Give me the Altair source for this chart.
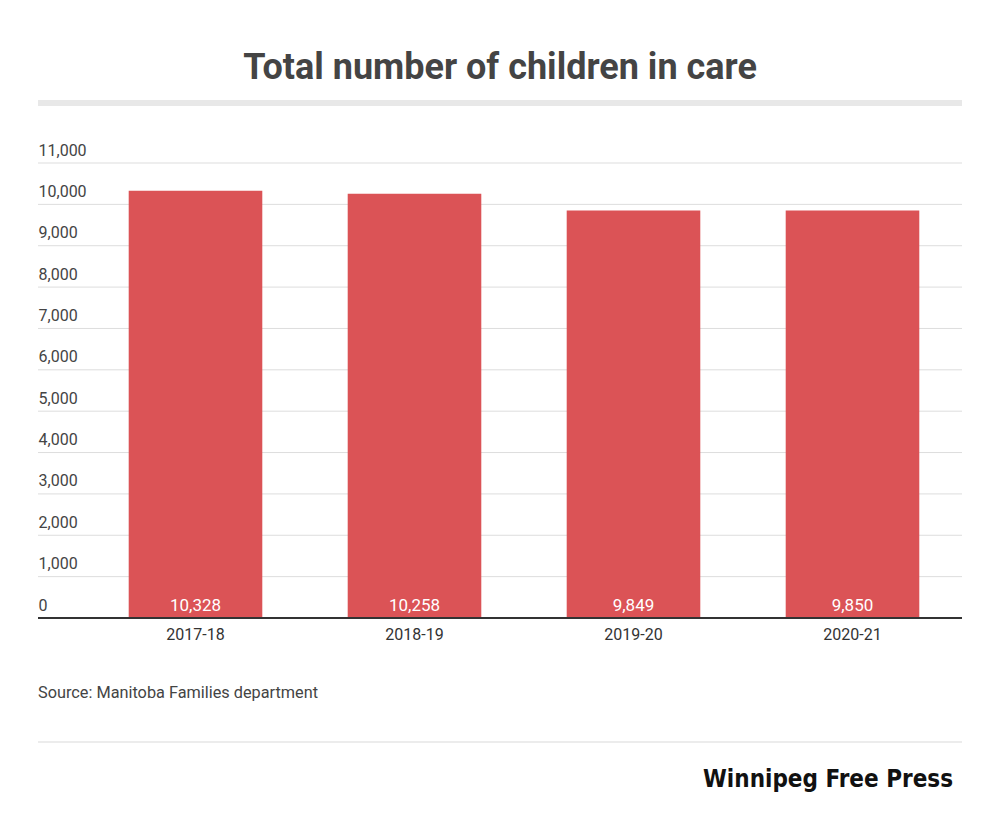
import altair as alt
import pandas as pd

years = ["2017-18", "2018-19", "2019-20", "2020-21"]
children = [10328, 10258, 9849, 9850]
tick_values = [0, 1000, 2000, 3000, 4000, 5000, 6000, 7000, 8000, 9000, 10000, 11000]

title_text = "Total number of children in care"
source_text = "Source: Manitoba Families department"
logo_text = "Winnipeg Free Press"

W, H = 924, 455
FONT = "Roboto"
BAR = "#db5356"

df = pd.DataFrame({"year": years, "children": children})
grid_df = pd.DataFrame({"v": [t for t in tick_values if t > 0]})

xscale = alt.Scale(domain=years, range=[48, W], paddingInner=0.39, paddingOuter=0.195)
yscale = alt.Scale(domain=[0, 11000], nice=False)
yaxis = alt.Axis(values=tick_values, labelExpr="format(datum.value, ',')", title=None,
                 labelAlign="left", labelBaseline="bottom", labelPadding=0, labelOffset=-5,
                 ticks=False, domain=False, grid=False, labelFont=FONT,
                 labelFontSize=16, labelColor="#444444")

grid = alt.Chart(grid_df).mark_rule(color="#dddddd", strokeWidth=1).encode(
    y=alt.Y("v:Q", scale=yscale, axis=yaxis),
    x=alt.value(0), x2=alt.value(W),
)

bars = alt.Chart(df).mark_bar(color=BAR).encode(
    x=alt.X("year:N", scale=xscale, sort=years,
            axis=alt.Axis(title=None, domain=False, ticks=False, labelAngle=0,
                          labelPadding=8, labelFont=FONT, labelFontSize=16,
                          labelColor="#333333")),
    y=alt.Y("children:Q", scale=yscale, axis=yaxis),
)

labels = alt.Chart(df).mark_text(color="white", font=FONT, fontSize=17, baseline="bottom", dy=-3).encode(
    x=alt.X("year:N", scale=xscale, sort=years),
    y=alt.datum(0, scale=yscale, axis=yaxis),
    text=alt.Text("children:Q", format=","),
)

baseline = alt.Chart(pd.DataFrame({"v": [0]})).mark_rule(color="#333333", strokeWidth=2).encode(
    y=alt.Y("v:Q", scale=yscale, axis=yaxis), x=alt.value(0), x2=alt.value(W),
)

deco = pd.DataFrame({"t": [title_text]})
title = alt.Chart(deco).mark_text(font=FONT, fontSize=36, fontWeight="bold", color="#444444",
                                  align="center", baseline="alphabetic").encode(
    text="t:N", x=alt.value(W / 2), y=alt.value(-84))

topbar = alt.Chart(deco).mark_rule(color="#e8e8e8", strokeWidth=6).encode(
    x=alt.value(0), x2=alt.value(W), y=alt.value(-60))

source = alt.Chart(pd.DataFrame({"t": [source_text]})).mark_text(
    font=FONT, fontSize=16.3, color="#444444", align="left", baseline="alphabetic").encode(
    text="t:N", x=alt.value(0), y=alt.value(535))

sepline = alt.Chart(deco).mark_rule(color="#e6e6e6", strokeWidth=1.5).encode(
    x=alt.value(0), x2=alt.value(W), y=alt.value(579))

logo = alt.Chart(pd.DataFrame({"t": [logo_text]})).mark_text(
    font="'Liberation Sans Narrow', 'DejaVu Sans Condensed'", fontSize=24, fontWeight="bold",
    color="#111111", align="right", baseline="alphabetic").encode(
    text="t:N", x=alt.value(915), y=alt.value(624))

chart = alt.layer(grid, bars, labels, baseline, title, topbar, source, sepline, logo).properties(
    width=W, height=H,
    background="white",
    autosize=alt.AutoSizeParams(type="none"),
    padding={"left": 30, "top": 155, "right": 30, "bottom": 195},
).configure_view(strokeWidth=0)

chart.save("out.html", embed_options={"renderer": "svg", "actions": False})
